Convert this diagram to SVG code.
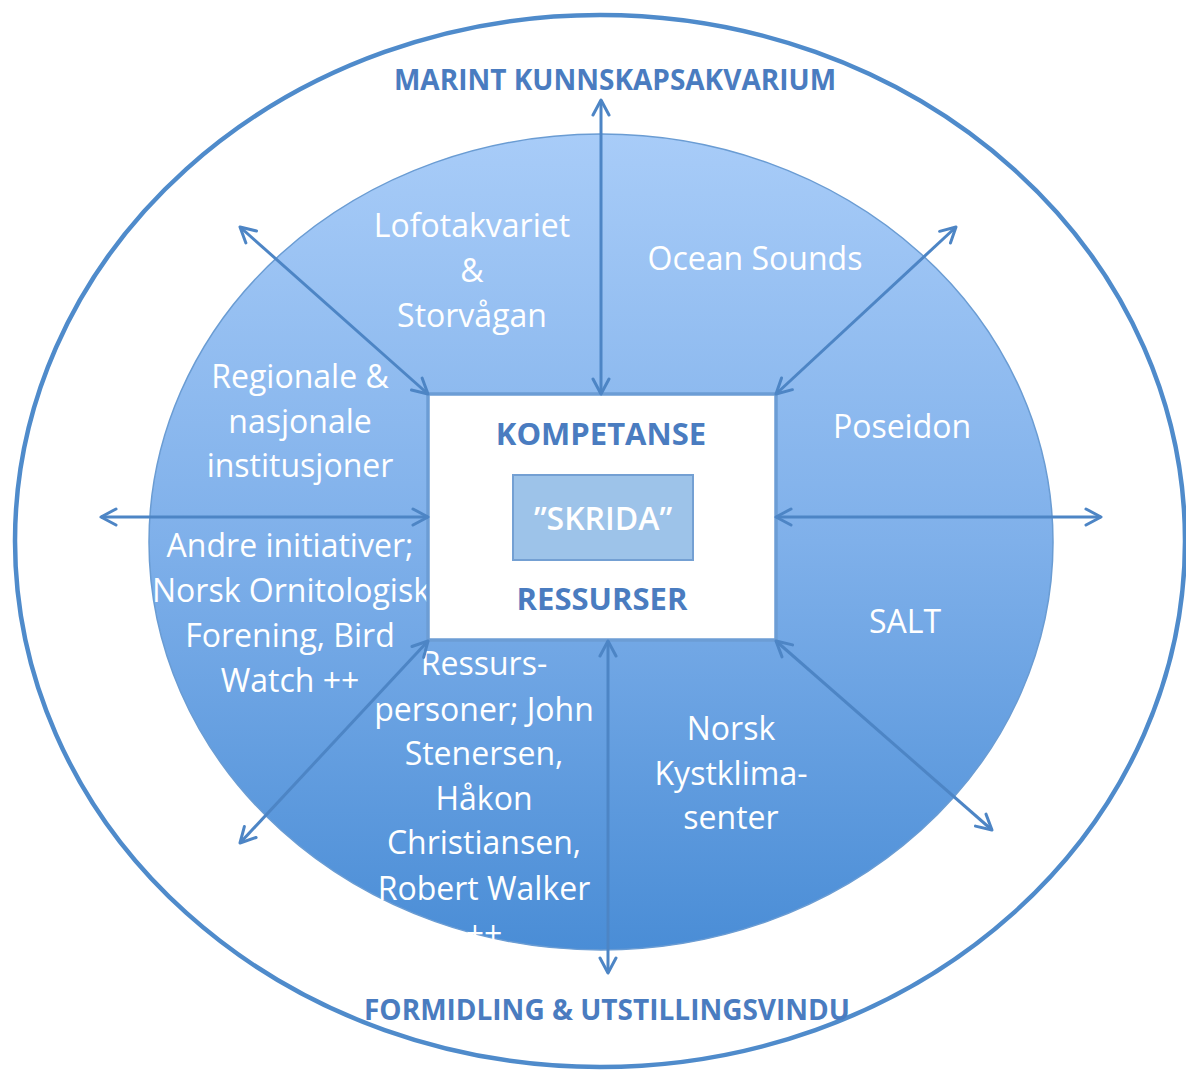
<svg xmlns="http://www.w3.org/2000/svg" width="1186" height="1070" viewBox="0 0 1186 1070">
  <defs>
    <linearGradient id="blueGrad" x1="0" y1="0" x2="0" y2="1">
      <stop offset="0" stop-color="#a8ccf8"/>
      <stop offset="0.5" stop-color="#7fb0ea"/>
      <stop offset="1" stop-color="#4a8dd6"/>
    </linearGradient>
    <marker id="arr" viewBox="0 0 20 20" refX="18" refY="10" markerWidth="20" markerHeight="20" markerUnits="userSpaceOnUse" orient="auto-start-reverse">
      <path d="M3,2 L18,10 L3,18" fill="none" stroke="#4d85c5" stroke-width="3" stroke-linecap="round" stroke-linejoin="round"/>
    </marker>
    <style>
      .wt { font-family: "Open Sans", "Liberation Sans", sans-serif; font-size: 32px; fill: #ffffff; text-anchor: middle; }
      .bt { font-family: "Open Sans", "Liberation Sans", sans-serif; font-weight: bold; fill: #4a7cc0; text-anchor: middle; }
      .conn { stroke: #4d85c5; stroke-width: 3; fill: none; marker-start: url(#arr); marker-end: url(#arr); }
    </style>
  </defs>

  <rect x="0" y="0" width="1186" height="1070" fill="#ffffff"/>

  <g id="outer-ring">
    <ellipse cx="600" cy="541" rx="585" ry="526" fill="#ffffff" stroke="#4f8bcb" stroke-width="4.5"/>
    <text class="bt" x="615" y="90" font-size="28">MARINT KUNNSKAPSAKVARIUM</text>
    <text class="bt" x="607" y="1020" font-size="28">FORMIDLING &amp; UTSTILLINGSVINDU</text>
  </g>

  <g id="inner-circle">
    <ellipse cx="601" cy="542" rx="452" ry="408" fill="url(#blueGrad)" stroke="#6a9cd3" stroke-width="1.5"/>
  </g>

  <g id="node-lofotakvariet">
    <text class="wt" x="472" y="237">Lofotakvariet</text>
    <text class="wt" x="472" y="282">&amp;</text>
    <text class="wt" x="472" y="327">Storvågan</text>
  </g>
  <g id="node-ocean-sounds">
    <text class="wt" x="755" y="270">Ocean Sounds</text>
  </g>
  <g id="node-regionale">
    <text class="wt" x="300" y="388">Regionale &amp;</text>
    <text class="wt" x="300" y="433">nasjonale</text>
    <text class="wt" x="300" y="477">institusjoner</text>
  </g>
  <g id="node-poseidon">
    <text class="wt" x="902" y="438">Poseidon</text>
  </g>
  <g id="node-andre">
    <text class="wt" x="290" y="557">Andre initiativer;</text>
    <text class="wt" x="291" y="602">Norsk Ornitologisk</text>
    <text class="wt" x="290" y="647">Forening, Bird</text>
    <text class="wt" x="290" y="692">Watch ++</text>
  </g>
  <g id="node-salt">
    <text class="wt" x="905" y="633">SALT</text>
  </g>
  <g id="node-ressurspersoner">
    <text class="wt" x="484" y="675">Ressurs-</text>
    <text class="wt" x="484" y="721">personer; John</text>
    <text class="wt" x="484" y="765">Stenersen,</text>
    <text class="wt" x="484" y="810">Håkon</text>
    <text class="wt" x="484" y="854">Christiansen,</text>
    <text class="wt" x="484" y="900">Robert Walker</text>
    <text class="wt" x="484" y="945">++</text>
  </g>
  <g id="node-kystklima">
    <text class="wt" x="731" y="740">Norsk</text>
    <text class="wt" x="731" y="785">Kystklima-</text>
    <text class="wt" x="731" y="829">senter</text>
  </g>

  <g id="center-box">
    <rect x="428" y="394" width="348" height="246" fill="#ffffff" stroke="#6c9dd5" stroke-width="3.5"/>
    <text class="bt" x="601" y="445" font-size="31">KOMPETANSE</text>
    <rect x="513" y="475" width="180" height="85" fill="#9dc3e9" stroke="#74a0d3" stroke-width="2"/>
    <text class="wt" x="603" y="530" font-size="37" font-weight="600">”SKRIDA”</text>
    <text class="bt" x="602" y="610" font-size="31">RESSURSER</text>
  </g>

  <g id="connectors">
    <line class="conn" x1="601" y1="394" x2="601" y2="100"/>
    <line class="conn" x1="608" y1="641" x2="608" y2="973"/>
    <line class="conn" x1="428" y1="517" x2="101" y2="517"/>
    <line class="conn" x1="776" y1="517" x2="1101" y2="517"/>
    <line class="conn" x1="428" y1="394" x2="240" y2="227"/>
    <line class="conn" x1="776" y1="394" x2="956" y2="227"/>
    <line class="conn" x1="428" y1="641" x2="240" y2="843"/>
    <line class="conn" x1="776" y1="641" x2="992" y2="830"/>
  </g>
</svg>
